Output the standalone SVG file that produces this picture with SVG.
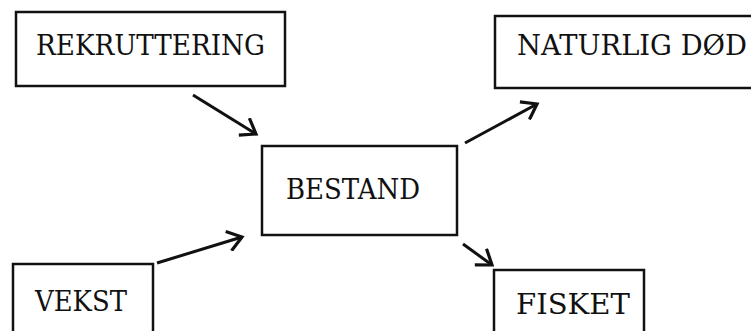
<svg xmlns="http://www.w3.org/2000/svg" width="751" height="331" viewBox="0 0 751 331">
<defs>
<marker id="arrh" markerWidth="22" markerHeight="22" refX="17" refY="11" orient="auto" markerUnits="userSpaceOnUse" viewBox="0 0 22 22">
<path d="M3,1 L17,11 L3,21" fill="none" stroke="#111" stroke-width="3.2"/>
</marker>
</defs>
<style>
.box{fill:#fff;stroke:#111;stroke-width:2.5}
.t{font-family:"DejaVu Serif","Liberation Serif",serif;font-size:27px;fill:#111}
.c{fill:none;stroke:#111;stroke-width:3;marker-end:url(#arrh)}
</style>
<rect width="751" height="331" fill="#fff"/>
<g id="rekruttering">
<rect class="box" x="16" y="12" width="269" height="74"/>
<text class="t" x="36" y="55" textLength="229" lengthAdjust="spacingAndGlyphs">REKRUTTERING</text>
</g>
<g id="naturlig">
<rect class="box" x="495" y="16" width="270" height="72"/>
<text class="t" x="517" y="55" textLength="230" lengthAdjust="spacingAndGlyphs">NATURLIG DØD</text>
</g>
<g id="bestand">
<rect class="box" x="262" y="146" width="195" height="89"/>
<text class="t" x="286" y="199" textLength="134" lengthAdjust="spacingAndGlyphs">BESTAND</text>
</g>
<g id="vekst">
<rect class="box" x="13" y="264" width="140" height="80"/>
<text class="t" x="35" y="311" textLength="92" lengthAdjust="spacingAndGlyphs">VEKST</text>
</g>
<g id="fisket">
<rect class="box" x="494" y="270" width="150" height="80"/>
<text class="t" x="516" y="314" textLength="114" lengthAdjust="spacingAndGlyphs">FISKET</text>
</g>
<g id="connectors">
<line class="c" x1="193" y1="95" x2="256" y2="134"/>
<line class="c" x1="465" y1="143" x2="537" y2="104"/>
<line class="c" x1="157" y1="263" x2="242" y2="237"/>
<line class="c" x1="463" y1="244" x2="492" y2="265"/>
</g>
</svg>
